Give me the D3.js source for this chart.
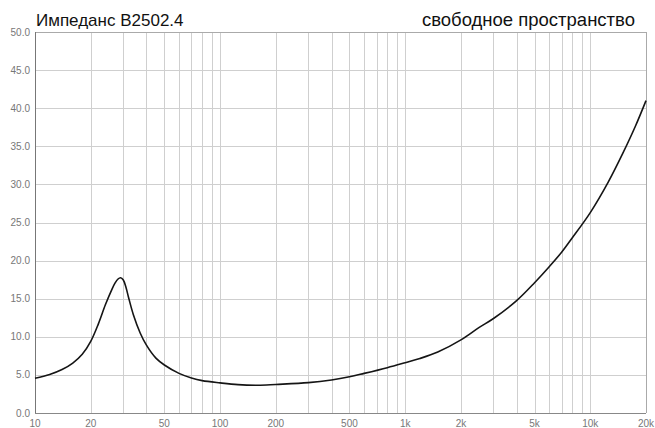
<!DOCTYPE html>
<html><head><meta charset="utf-8">
<script src="https://cdn.jsdelivr.net/npm/d3@7"></script>
<style>body{margin:0;background:#fff}svg{display:block}</style>
</head><body>
<svg id="c" width="655" height="428"></svg>
<script>
const titleLeft = "Импеданс B2502.4";
const titleRight = "свободное пространство";
const freqs = [10,12,14,16,18,20,22,24,26,27,28,29,30,31,32,34,37,40,45,50,60,70,80,100,125,160,200,300,400,500,600,800,1000,1200,1500,2000,2500,3000,4000,5000,6000,7000,8000,10000,12500,15000,17500,20000];
const impedance = [4.55,5.05,5.7,6.55,7.7,9.4,11.7,14.2,16.2,17.0,17.55,17.75,17.45,16.5,15.2,12.9,10.5,8.9,7.2,6.3,5.2,4.6,4.25,3.95,3.72,3.65,3.75,3.98,4.33,4.75,5.2,5.95,6.6,7.15,8.0,9.6,11.2,12.4,14.75,17.1,19.2,21.1,23.0,26.3,30.3,34.1,37.6,41.0];
const xTickValues = [10,20,50,100,200,500,1000,2000,5000,10000,20000];
const xTickLabels = ["10","20","50","100","200","500","1k","2k","5k","10k","20k"];
const yTickValues = [0,5,10,15,20,25,30,35,40,45,50];

const svg = d3.select("#c");
const L = 35, R = 646, T = 32, B = 413;
const x = d3.scaleLog().domain([10,20000]).range([L,R]);
const y = d3.scaleLinear().domain([0,50]).range([B,T]);

const gridX = [];
for (let d = 10; d <= 10000; d *= 10) for (let m = 1; m <= 9; m++) { const v = d*m; if (v > 10 && v <= 20000) gridX.push(v); }
gridX.push(20000);

const g = svg.append("g");
g.selectAll("line.gx").data(gridX).join("line")
  .attr("x1", d => Math.round(x(d))+0.5).attr("x2", d => Math.round(x(d))+0.5)
  .attr("y1", T).attr("y2", B)
  .attr("stroke", d => d === 20000 ? "#aaa" : "#cfcfcf").attr("stroke-width", 1);
g.selectAll("line.gy").data(yTickValues.filter(v => v > 0)).join("line")
  .attr("x1", L).attr("x2", R)
  .attr("y1", d => Math.round(y(d))+0.5).attr("y2", d => Math.round(y(d))+0.5)
  .attr("stroke", d => d === 50 ? "#aaa" : "#cfcfcf").attr("stroke-width", 1);

svg.append("line").attr("x1", L+0.5).attr("x2", L+0.5).attr("y1", T).attr("y2", B+0.5).attr("stroke", "#777");
svg.append("line").attr("x1", L).attr("x2", R).attr("y1", B+0.5).attr("y2", B+0.5).attr("stroke", "#888");

svg.selectAll("text.yl").data(yTickValues).join("text")
  .attr("x", 30).attr("y", d => y(d)).attr("dy", "0.35em")
  .attr("text-anchor", "end").attr("font-family", "Liberation Sans, Arial, sans-serif")
  .attr("font-size", 10).attr("fill", "#777").text(d3.format(".1f"));

svg.selectAll("text.xl").data(xTickValues).join("text")
  .attr("x", d => x(d)).attr("y", 427)
  .attr("text-anchor", "middle").attr("font-family", "Liberation Sans, Arial, sans-serif")
  .attr("font-size", 10).attr("fill", "#777").text((d,i) => xTickLabels[i]);

const pts = freqs.map((f,i) => [f, impedance[i]]);
const line = d3.line().x(d => x(d[0])).y(d => y(d[1])).curve(d3.curveCatmullRom.alpha(0.5));
svg.append("path").datum(pts).attr("d", line)
  .attr("fill", "none").attr("stroke", "#151515").attr("stroke-width", 1.6);

svg.append("text").attr("x", 36).attr("y", 26).attr("font-family", "Liberation Sans, Arial, sans-serif")
  .attr("font-size", 17).attr("fill", "#111").text(titleLeft);
svg.append("text").attr("x", 635).attr("y", 26).attr("text-anchor", "end").attr("font-family", "Liberation Sans, Arial, sans-serif")
  .attr("font-size", 18.5).attr("fill", "#111").text(titleRight);
</script>
</body></html>
